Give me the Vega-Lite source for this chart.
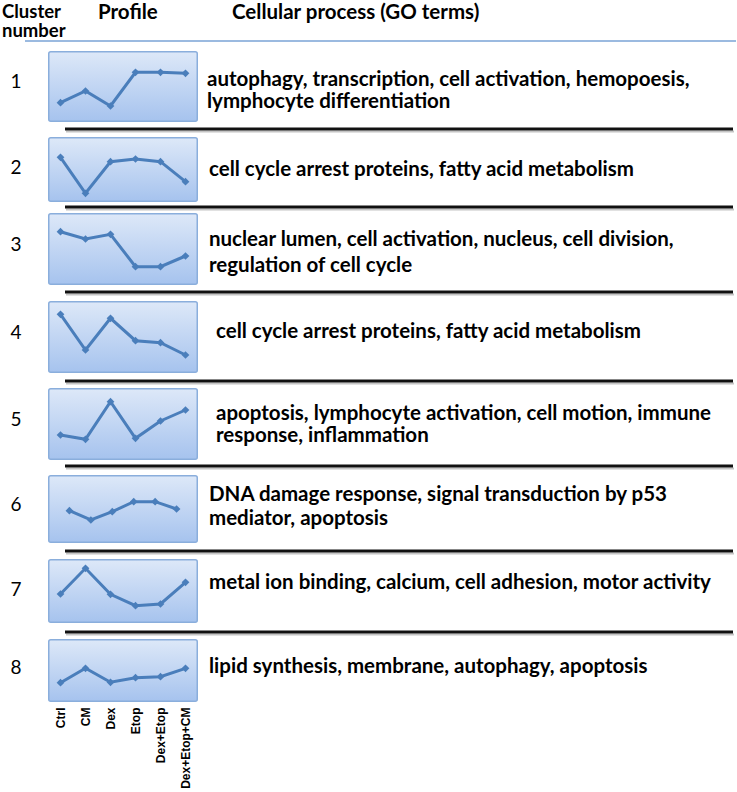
{
  "$schema": "https://vega.github.io/schema/vega-lite/v6.json",
  "padding": 0,
  "spacing": 0,
  "config": {"view": {"stroke": null}},
  "datasets": {
    "profiles": [
      {"cluster": 1, "condition": "Ctrl", "value": 19.3}, {"cluster": 1, "condition": "CM", "value": 31}, {"cluster": 1, "condition": "Dex", "value": 16}, {"cluster": 1, "condition": "Etop", "value": 49.7}, {"cluster": 1, "condition": "Dex+Etop", "value": 49.7}, {"cluster": 1, "condition": "Dex+Etop+CM", "value": 48.7},
      {"cluster": 2, "condition": "Ctrl", "value": 44.7}, {"cluster": 2, "condition": "CM", "value": 8.7}, {"cluster": 2, "condition": "Dex", "value": 40.3}, {"cluster": 2, "condition": "Etop", "value": 43}, {"cluster": 2, "condition": "Dex+Etop", "value": 40.3}, {"cluster": 2, "condition": "Dex+Etop+CM", "value": 20.3},
      {"cluster": 3, "condition": "Ctrl", "value": 53.3}, {"cluster": 3, "condition": "CM", "value": 46}, {"cluster": 3, "condition": "Dex", "value": 50.7}, {"cluster": 3, "condition": "Etop", "value": 18.3}, {"cluster": 3, "condition": "Dex+Etop", "value": 18.3}, {"cluster": 3, "condition": "Dex+Etop+CM", "value": 29},
      {"cluster": 4, "condition": "Ctrl", "value": 58.7}, {"cluster": 4, "condition": "CM", "value": 23}, {"cluster": 4, "condition": "Dex", "value": 54.7}, {"cluster": 4, "condition": "Etop", "value": 32.3}, {"cluster": 4, "condition": "Dex+Etop", "value": 30.3}, {"cluster": 4, "condition": "Dex+Etop+CM", "value": 18},
      {"cluster": 5, "condition": "Ctrl", "value": 25}, {"cluster": 5, "condition": "CM", "value": 20.7}, {"cluster": 5, "condition": "Dex", "value": 58.3}, {"cluster": 5, "condition": "Etop", "value": 21.7}, {"cluster": 5, "condition": "Dex+Etop", "value": 39}, {"cluster": 5, "condition": "Dex+Etop+CM", "value": 50},
      {"cluster": 6, "condition": "Ctrl", "value": 32.3}, {"cluster": 6, "condition": "CM", "value": 23}, {"cluster": 6, "condition": "Dex", "value": 31.3}, {"cluster": 6, "condition": "Etop", "value": 41.3}, {"cluster": 6, "condition": "Dex+Etop", "value": 41.3}, {"cluster": 6, "condition": "Dex+Etop+CM", "value": 34},
      {"cluster": 7, "condition": "Ctrl", "value": 29}, {"cluster": 7, "condition": "CM", "value": 54.7}, {"cluster": 7, "condition": "Dex", "value": 28.7}, {"cluster": 7, "condition": "Etop", "value": 17.3}, {"cluster": 7, "condition": "Dex+Etop", "value": 19}, {"cluster": 7, "condition": "Dex+Etop+CM", "value": 40.7},
      {"cluster": 8, "condition": "Ctrl", "value": 19.3}, {"cluster": 8, "condition": "CM", "value": 33.7}, {"cluster": 8, "condition": "Dex", "value": 19.7}, {"cluster": 8, "condition": "Etop", "value": 24.3}, {"cluster": 8, "condition": "Dex+Etop", "value": 25.3}, {"cluster": 8, "condition": "Dex+Etop+CM", "value": 33.7}
    ],
    "terms": [
      {"cluster": 1, "terms": "autophagy, transcription, cell activation, hemopoesis,\nlymphocyte differentiation"},
      {"cluster": 2, "terms": "cell cycle arrest proteins, fatty acid metabolism"},
      {"cluster": 3, "terms": "nuclear lumen, cell activation, nucleus, cell division,\nregulation of cell cycle"},
      {"cluster": 4, "terms": "cell cycle arrest proteins, fatty acid metabolism"},
      {"cluster": 5, "terms": "apoptosis, lymphocyte activation, cell motion, immune\nresponse, inflammation"},
      {"cluster": 6, "terms": "DNA damage response, signal transduction by p53\nmediator, apoptosis"},
      {"cluster": 7, "terms": "metal ion binding, calcium, cell adhesion, motor activity"},
      {"cluster": 8, "terms": "lipid synthesis, membrane, autophagy, apoptosis"}
    ],
    "header": [
      {"col": "num", "label": "Cluster"},
      {"col": "num2", "label": "number"},
      {"col": "profile", "label": "Profile"},
      {"col": "go", "label": "Cellular process (GO terms)"}
    ]
  },
  "vconcat": [
    {"width": 737, "height": 40, "data": {"name": "header"}, "layer": [
      {"transform": [{"filter": "datum.col == 'num'"}], "mark": {"type": "text", "font": "Lato", "fontWeight": "bold", "fontSize": 18.5, "align": "left", "baseline": "middle", "color": "#000"}, "encoding": {"x": {"value": 2}, "y": {"value": 11.5}, "text": {"field": "label", "type": "nominal"}}},
      {"transform": [{"filter": "datum.col == 'num2'"}], "mark": {"type": "text", "font": "Lato", "fontWeight": "bold", "fontSize": 18.5, "align": "left", "baseline": "middle", "color": "#000"}, "encoding": {"x": {"value": 2}, "y": {"value": 30.5}, "text": {"field": "label", "type": "nominal"}}},
      {"transform": [{"filter": "datum.col == 'profile'"}], "mark": {"type": "text", "font": "Lato", "fontWeight": "bold", "fontSize": 20.5, "align": "left", "baseline": "middle", "color": "#000"}, "encoding": {"x": {"value": 98}, "y": {"value": 13}, "text": {"field": "label", "type": "nominal"}}},
      {"transform": [{"filter": "datum.col == 'go'"}], "mark": {"type": "text", "font": "Lato", "fontWeight": "bold", "fontSize": 20.5, "align": "left", "baseline": "middle", "color": "#000"}, "encoding": {"x": {"value": 232}, "y": {"value": 13}, "text": {"field": "label", "type": "nominal"}}}
    ]},
    {"width": 737, "height": 11, "data": {"values": [{}]}, "mark": {"type": "rule", "color": "#7aa3d6", "strokeWidth": 1.5}, "encoding": {"x": {"value": 25}, "x2": {"value": 736}, "y": {"value": 1}}},

    {"hconcat": [
      {"width": 48, "height": 71, "data": {"name": "terms"}, "transform": [{"filter": "datum.cluster == 1"}], "mark": {"type": "text", "font": "Lato", "fontSize": 19, "align": "center", "baseline": "middle", "color": "#000"}, "encoding": {"x": {"value": 16}, "y": {"value": 31}, "text": {"field": "cluster", "type": "nominal"}}},
      {"width": 150, "height": 71, "layer": [
        {"data": {"values": [{}]}, "mark": {"type": "rect", "fill": {"gradient": "linear", "x1": 0, "y1": 0, "x2": 0, "y2": 1, "stops": [{"offset": 0, "color": "#dde8f8"}, {"offset": 1, "color": "#a6c3ee"}]}, "stroke": "#8aaedc", "strokeWidth": 1.5, "cornerRadius": 2}, "encoding": {"x": {"value": 0.75}, "x2": {"value": 149.25}, "y": {"value": 0.75}, "y2": {"value": 70.25}}},
        {"data": {"name": "profiles"}, "transform": [{"filter": "datum.cluster == 1"}], "mark": {"type": "line", "color": "#4a7ebb", "strokeWidth": 3, "point": {"shape": "diamond", "size": 60, "filled": true, "color": "#4a7ebb"}}, "encoding": {"x": {"field": "condition", "type": "nominal", "sort": ["Ctrl", "CM", "Dex", "Etop", "Dex+Etop", "Dex+Etop+CM"], "scale": {"type": "point", "padding": 0.5}, "axis": null}, "y": {"field": "value", "type": "quantitative", "scale": {"domain": [0, 71], "nice": false, "zero": false}, "axis": null}}}
      ]},
      {"width": 539, "height": 71, "data": {"name": "terms"}, "transform": [{"filter": "datum.cluster == 1"}], "mark": {"type": "text", "font": "Lato", "fontWeight": "bold", "fontSize": 20.5, "align": "left", "baseline": "middle", "lineBreak": "\n", "lineHeight": 22, "color": "#000"}, "encoding": {"x": {"value": 9}, "y": {"value": 29}, "text": {"field": "terms", "type": "nominal"}}}
    ], "spacing": 0},
    {"width": 737, "height": 15, "data": {"values": [{}]}, "layer": [
      {"mark": {"type": "rule", "color": "#c4c4c4", "strokeWidth": 2}, "encoding": {"x": {"value": 66}, "x2": {"value": 734}, "y": {"value": 9.5}}},
      {"mark": {"type": "rule", "color": "#111111", "strokeWidth": 3}, "encoding": {"x": {"value": 65}, "x2": {"value": 733}, "y": {"value": 7}}}
    ]},

    {"hconcat": [
      {"width": 48, "height": 65, "data": {"name": "terms"}, "transform": [{"filter": "datum.cluster == 2"}], "mark": {"type": "text", "font": "Lato", "fontSize": 19, "align": "center", "baseline": "middle", "color": "#000"}, "encoding": {"x": {"value": 16}, "y": {"value": 31}, "text": {"field": "cluster", "type": "nominal"}}},
      {"width": 150, "height": 65, "layer": [
        {"data": {"values": [{}]}, "mark": {"type": "rect", "fill": {"gradient": "linear", "x1": 0, "y1": 0, "x2": 0, "y2": 1, "stops": [{"offset": 0, "color": "#dde8f8"}, {"offset": 1, "color": "#a6c3ee"}]}, "stroke": "#8aaedc", "strokeWidth": 1.5, "cornerRadius": 2}, "encoding": {"x": {"value": 0.75}, "x2": {"value": 149.25}, "y": {"value": 0.75}, "y2": {"value": 64.25}}},
        {"data": {"name": "profiles"}, "transform": [{"filter": "datum.cluster == 2"}], "mark": {"type": "line", "color": "#4a7ebb", "strokeWidth": 3, "point": {"shape": "diamond", "size": 60, "filled": true, "color": "#4a7ebb"}}, "encoding": {"x": {"field": "condition", "type": "nominal", "sort": ["Ctrl", "CM", "Dex", "Etop", "Dex+Etop", "Dex+Etop+CM"], "scale": {"type": "point", "padding": 0.5}, "axis": null}, "y": {"field": "value", "type": "quantitative", "scale": {"domain": [0, 65], "nice": false, "zero": false}, "axis": null}}}
      ]},
      {"width": 539, "height": 65, "data": {"name": "terms"}, "transform": [{"filter": "datum.cluster == 2"}], "mark": {"type": "text", "font": "Lato", "fontWeight": "bold", "fontSize": 20.5, "align": "left", "baseline": "middle", "lineBreak": "\n", "lineHeight": 22, "color": "#000"}, "encoding": {"x": {"value": 11}, "y": {"value": 33}, "text": {"field": "terms", "type": "nominal"}}}
    ], "spacing": 0},
    {"width": 737, "height": 11, "data": {"values": [{}]}, "layer": [
      {"mark": {"type": "rule", "color": "#c4c4c4", "strokeWidth": 2}, "encoding": {"x": {"value": 66}, "x2": {"value": 734}, "y": {"value": 7.5}}},
      {"mark": {"type": "rule", "color": "#111111", "strokeWidth": 3}, "encoding": {"x": {"value": 65}, "x2": {"value": 733}, "y": {"value": 5}}}
    ]},

    {"hconcat": [
      {"width": 48, "height": 72, "data": {"name": "terms"}, "transform": [{"filter": "datum.cluster == 3"}], "mark": {"type": "text", "font": "Lato", "fontSize": 19, "align": "center", "baseline": "middle", "color": "#000"}, "encoding": {"x": {"value": 16}, "y": {"value": 32}, "text": {"field": "cluster", "type": "nominal"}}},
      {"width": 150, "height": 72, "layer": [
        {"data": {"values": [{}]}, "mark": {"type": "rect", "fill": {"gradient": "linear", "x1": 0, "y1": 0, "x2": 0, "y2": 1, "stops": [{"offset": 0, "color": "#dde8f8"}, {"offset": 1, "color": "#a6c3ee"}]}, "stroke": "#8aaedc", "strokeWidth": 1.5, "cornerRadius": 2}, "encoding": {"x": {"value": 0.75}, "x2": {"value": 149.25}, "y": {"value": 0.75}, "y2": {"value": 71.25}}},
        {"data": {"name": "profiles"}, "transform": [{"filter": "datum.cluster == 3"}], "mark": {"type": "line", "color": "#4a7ebb", "strokeWidth": 3, "point": {"shape": "diamond", "size": 60, "filled": true, "color": "#4a7ebb"}}, "encoding": {"x": {"field": "condition", "type": "nominal", "sort": ["Ctrl", "CM", "Dex", "Etop", "Dex+Etop", "Dex+Etop+CM"], "scale": {"type": "point", "padding": 0.5}, "axis": null}, "y": {"field": "value", "type": "quantitative", "scale": {"domain": [0, 72], "nice": false, "zero": false}, "axis": null}}}
      ]},
      {"width": 539, "height": 72, "data": {"name": "terms"}, "transform": [{"filter": "datum.cluster == 3"}], "mark": {"type": "text", "font": "Lato", "fontWeight": "bold", "fontSize": 20.5, "align": "left", "baseline": "middle", "lineBreak": "\n", "lineHeight": 26, "color": "#000"}, "encoding": {"x": {"value": 11}, "y": {"value": 27}, "text": {"field": "terms", "type": "nominal"}}}
    ], "spacing": 0},
    {"width": 737, "height": 16, "data": {"values": [{}]}, "layer": [
      {"mark": {"type": "rule", "color": "#c4c4c4", "strokeWidth": 2}, "encoding": {"x": {"value": 66}, "x2": {"value": 734}, "y": {"value": 9.5}}},
      {"mark": {"type": "rule", "color": "#111111", "strokeWidth": 3}, "encoding": {"x": {"value": 65}, "x2": {"value": 733}, "y": {"value": 7}}}
    ]},

    {"hconcat": [
      {"width": 48, "height": 72, "data": {"name": "terms"}, "transform": [{"filter": "datum.cluster == 4"}], "mark": {"type": "text", "font": "Lato", "fontSize": 19, "align": "center", "baseline": "middle", "color": "#000"}, "encoding": {"x": {"value": 16}, "y": {"value": 32}, "text": {"field": "cluster", "type": "nominal"}}},
      {"width": 150, "height": 72, "layer": [
        {"data": {"values": [{}]}, "mark": {"type": "rect", "fill": {"gradient": "linear", "x1": 0, "y1": 0, "x2": 0, "y2": 1, "stops": [{"offset": 0, "color": "#dde8f8"}, {"offset": 1, "color": "#a6c3ee"}]}, "stroke": "#8aaedc", "strokeWidth": 1.5, "cornerRadius": 2}, "encoding": {"x": {"value": 0.75}, "x2": {"value": 149.25}, "y": {"value": 0.75}, "y2": {"value": 71.25}}},
        {"data": {"name": "profiles"}, "transform": [{"filter": "datum.cluster == 4"}], "mark": {"type": "line", "color": "#4a7ebb", "strokeWidth": 3, "point": {"shape": "diamond", "size": 60, "filled": true, "color": "#4a7ebb"}}, "encoding": {"x": {"field": "condition", "type": "nominal", "sort": ["Ctrl", "CM", "Dex", "Etop", "Dex+Etop", "Dex+Etop+CM"], "scale": {"type": "point", "padding": 0.5}, "axis": null}, "y": {"field": "value", "type": "quantitative", "scale": {"domain": [0, 72], "nice": false, "zero": false}, "axis": null}}}
      ]},
      {"width": 539, "height": 72, "data": {"name": "terms"}, "transform": [{"filter": "datum.cluster == 4"}], "mark": {"type": "text", "font": "Lato", "fontWeight": "bold", "fontSize": 20.5, "align": "left", "baseline": "middle", "lineBreak": "\n", "lineHeight": 22, "color": "#000"}, "encoding": {"x": {"value": 18}, "y": {"value": 31}, "text": {"field": "terms", "type": "nominal"}}}
    ], "spacing": 0},
    {"width": 737, "height": 15, "data": {"values": [{}]}, "layer": [
      {"mark": {"type": "rule", "color": "#c4c4c4", "strokeWidth": 2}, "encoding": {"x": {"value": 66}, "x2": {"value": 734}, "y": {"value": 10.5}}},
      {"mark": {"type": "rule", "color": "#111111", "strokeWidth": 3}, "encoding": {"x": {"value": 65}, "x2": {"value": 733}, "y": {"value": 8}}}
    ]},

    {"hconcat": [
      {"width": 48, "height": 72, "data": {"name": "terms"}, "transform": [{"filter": "datum.cluster == 5"}], "mark": {"type": "text", "font": "Lato", "fontSize": 19, "align": "center", "baseline": "middle", "color": "#000"}, "encoding": {"x": {"value": 16}, "y": {"value": 32}, "text": {"field": "cluster", "type": "nominal"}}},
      {"width": 150, "height": 72, "layer": [
        {"data": {"values": [{}]}, "mark": {"type": "rect", "fill": {"gradient": "linear", "x1": 0, "y1": 0, "x2": 0, "y2": 1, "stops": [{"offset": 0, "color": "#dde8f8"}, {"offset": 1, "color": "#a6c3ee"}]}, "stroke": "#8aaedc", "strokeWidth": 1.5, "cornerRadius": 2}, "encoding": {"x": {"value": 0.75}, "x2": {"value": 149.25}, "y": {"value": 0.75}, "y2": {"value": 71.25}}},
        {"data": {"name": "profiles"}, "transform": [{"filter": "datum.cluster == 5"}], "mark": {"type": "line", "color": "#4a7ebb", "strokeWidth": 3, "point": {"shape": "diamond", "size": 60, "filled": true, "color": "#4a7ebb"}}, "encoding": {"x": {"field": "condition", "type": "nominal", "sort": ["Ctrl", "CM", "Dex", "Etop", "Dex+Etop", "Dex+Etop+CM"], "scale": {"type": "point", "padding": 0.5}, "axis": null}, "y": {"field": "value", "type": "quantitative", "scale": {"domain": [0, 72], "nice": false, "zero": false}, "axis": null}}}
      ]},
      {"width": 539, "height": 72, "data": {"name": "terms"}, "transform": [{"filter": "datum.cluster == 5"}], "mark": {"type": "text", "font": "Lato", "fontWeight": "bold", "fontSize": 20.5, "align": "left", "baseline": "middle", "lineBreak": "\n", "lineHeight": 22, "color": "#000"}, "encoding": {"x": {"value": 18}, "y": {"value": 26}, "text": {"field": "terms", "type": "nominal"}}}
    ], "spacing": 0},
    {"width": 737, "height": 15, "data": {"values": [{}]}, "layer": [
      {"mark": {"type": "rule", "color": "#c4c4c4", "strokeWidth": 2}, "encoding": {"x": {"value": 66}, "x2": {"value": 734}, "y": {"value": 8.5}}},
      {"mark": {"type": "rule", "color": "#111111", "strokeWidth": 3}, "encoding": {"x": {"value": 65}, "x2": {"value": 733}, "y": {"value": 6}}}
    ]},

    {"hconcat": [
      {"width": 48, "height": 68, "data": {"name": "terms"}, "transform": [{"filter": "datum.cluster == 6"}], "mark": {"type": "text", "font": "Lato", "fontSize": 19, "align": "center", "baseline": "middle", "color": "#000"}, "encoding": {"x": {"value": 16}, "y": {"value": 30}, "text": {"field": "cluster", "type": "nominal"}}},
      {"width": 150, "height": 68, "layer": [
        {"data": {"values": [{}]}, "mark": {"type": "rect", "fill": {"gradient": "linear", "x1": 0, "y1": 0, "x2": 0, "y2": 1, "stops": [{"offset": 0, "color": "#dde8f8"}, {"offset": 1, "color": "#a6c3ee"}]}, "stroke": "#8aaedc", "strokeWidth": 1.5, "cornerRadius": 2}, "encoding": {"x": {"value": 0.75}, "x2": {"value": 149.25}, "y": {"value": 0.75}, "y2": {"value": 67.25}}},
        {"data": {"name": "profiles"}, "transform": [{"filter": "datum.cluster == 6"}], "mark": {"type": "line", "color": "#4a7ebb", "strokeWidth": 3, "point": {"shape": "diamond", "size": 60, "filled": true, "color": "#4a7ebb"}}, "encoding": {"x": {"field": "condition", "type": "nominal", "sort": ["Ctrl", "CM", "Dex", "Etop", "Dex+Etop", "Dex+Etop+CM"], "scale": {"type": "point", "padding": 1.04}, "axis": null}, "y": {"field": "value", "type": "quantitative", "scale": {"domain": [0, 68], "nice": false, "zero": false}, "axis": null}}}
      ]},
      {"width": 539, "height": 68, "data": {"name": "terms"}, "transform": [{"filter": "datum.cluster == 6"}], "mark": {"type": "text", "font": "Lato", "fontWeight": "bold", "fontSize": 20.5, "align": "left", "baseline": "middle", "lineBreak": "\n", "lineHeight": 24, "color": "#000"}, "encoding": {"x": {"value": 11}, "y": {"value": 20}, "text": {"field": "terms", "type": "nominal"}}}
    ], "spacing": 0},
    {"width": 737, "height": 16, "data": {"values": [{}]}, "layer": [
      {"mark": {"type": "rule", "color": "#c4c4c4", "strokeWidth": 2}, "encoding": {"x": {"value": 66}, "x2": {"value": 734}, "y": {"value": 10.5}}},
      {"mark": {"type": "rule", "color": "#111111", "strokeWidth": 3}, "encoding": {"x": {"value": 65}, "x2": {"value": 733}, "y": {"value": 8}}}
    ]},

    {"hconcat": [
      {"width": 48, "height": 64, "data": {"name": "terms"}, "transform": [{"filter": "datum.cluster == 7"}], "mark": {"type": "text", "font": "Lato", "fontSize": 19, "align": "center", "baseline": "middle", "color": "#000"}, "encoding": {"x": {"value": 16}, "y": {"value": 31}, "text": {"field": "cluster", "type": "nominal"}}},
      {"width": 150, "height": 64, "layer": [
        {"data": {"values": [{}]}, "mark": {"type": "rect", "fill": {"gradient": "linear", "x1": 0, "y1": 0, "x2": 0, "y2": 1, "stops": [{"offset": 0, "color": "#dde8f8"}, {"offset": 1, "color": "#a6c3ee"}]}, "stroke": "#8aaedc", "strokeWidth": 1.5, "cornerRadius": 2}, "encoding": {"x": {"value": 0.75}, "x2": {"value": 149.25}, "y": {"value": 0.75}, "y2": {"value": 63.25}}},
        {"data": {"name": "profiles"}, "transform": [{"filter": "datum.cluster == 7"}], "mark": {"type": "line", "color": "#4a7ebb", "strokeWidth": 3, "point": {"shape": "diamond", "size": 60, "filled": true, "color": "#4a7ebb"}}, "encoding": {"x": {"field": "condition", "type": "nominal", "sort": ["Ctrl", "CM", "Dex", "Etop", "Dex+Etop", "Dex+Etop+CM"], "scale": {"type": "point", "padding": 0.5}, "axis": null}, "y": {"field": "value", "type": "quantitative", "scale": {"domain": [0, 64], "nice": false, "zero": false}, "axis": null}}}
      ]},
      {"width": 539, "height": 64, "data": {"name": "terms"}, "transform": [{"filter": "datum.cluster == 7"}], "mark": {"type": "text", "font": "Lato", "fontWeight": "bold", "fontSize": 20.5, "align": "left", "baseline": "middle", "lineBreak": "\n", "lineHeight": 22, "color": "#000"}, "encoding": {"x": {"value": 11}, "y": {"value": 24}, "text": {"field": "terms", "type": "nominal"}}}
    ], "spacing": 0},
    {"width": 737, "height": 16, "data": {"values": [{}]}, "layer": [
      {"mark": {"type": "rule", "color": "#c4c4c4", "strokeWidth": 2}, "encoding": {"x": {"value": 66}, "x2": {"value": 734}, "y": {"value": 11.5}}},
      {"mark": {"type": "rule", "color": "#111111", "strokeWidth": 3}, "encoding": {"x": {"value": 65}, "x2": {"value": 733}, "y": {"value": 9}}}
    ]},

    {"hconcat": [
      {"width": 48, "height": 63, "data": {"name": "terms"}, "transform": [{"filter": "datum.cluster == 8"}], "mark": {"type": "text", "font": "Lato", "fontSize": 19, "align": "center", "baseline": "middle", "color": "#000"}, "encoding": {"x": {"value": 16}, "y": {"value": 29}, "text": {"field": "cluster", "type": "nominal"}}},
      {"width": 150, "height": 63, "layer": [
        {"data": {"values": [{}]}, "mark": {"type": "rect", "fill": {"gradient": "linear", "x1": 0, "y1": 0, "x2": 0, "y2": 1, "stops": [{"offset": 0, "color": "#dde8f8"}, {"offset": 1, "color": "#a6c3ee"}]}, "stroke": "#8aaedc", "strokeWidth": 1.5, "cornerRadius": 2}, "encoding": {"x": {"value": 0.75}, "x2": {"value": 149.25}, "y": {"value": 0.75}, "y2": {"value": 62.25}}},
        {"data": {"name": "profiles"}, "transform": [{"filter": "datum.cluster == 8"}], "mark": {"type": "line", "color": "#4a7ebb", "strokeWidth": 3, "point": {"shape": "diamond", "size": 60, "filled": true, "color": "#4a7ebb"}}, "encoding": {"x": {"field": "condition", "type": "nominal", "sort": ["Ctrl", "CM", "Dex", "Etop", "Dex+Etop", "Dex+Etop+CM"], "scale": {"type": "point", "padding": 0.5}, "axis": {"orient": "bottom", "title": null, "labelAngle": 270, "labelAlign": "right", "labelBaseline": "middle", "ticks": false, "domain": false, "grid": false, "labelPadding": 5, "labelFont": "Liberation Sans", "labelFontWeight": "bold", "labelFontSize": 12, "labelColor": "#000", "labelOverlap": false}}, "y": {"field": "value", "type": "quantitative", "scale": {"domain": [0, 63], "nice": false, "zero": false}, "axis": null}}}
      ]},
      {"width": 539, "height": 63, "data": {"name": "terms"}, "transform": [{"filter": "datum.cluster == 8"}], "mark": {"type": "text", "font": "Lato", "fontWeight": "bold", "fontSize": 20.5, "align": "left", "baseline": "middle", "lineBreak": "\n", "lineHeight": 22, "color": "#000"}, "encoding": {"x": {"value": 11}, "y": {"value": 28}, "text": {"field": "terms", "type": "nominal"}}}
    ], "spacing": 0}
  ]
}
